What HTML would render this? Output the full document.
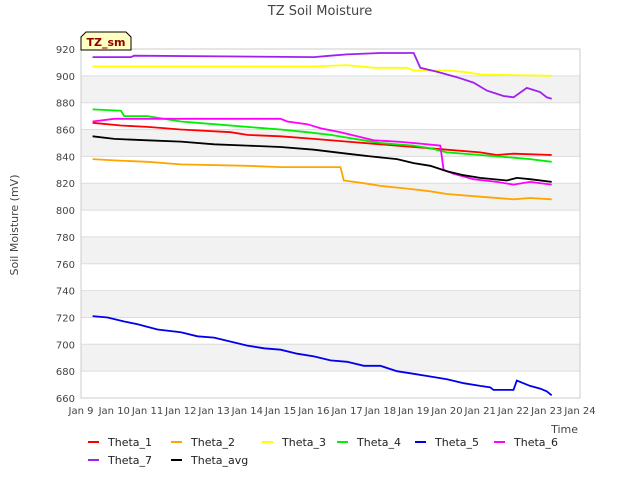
<!DOCTYPE html>
<html><head><meta charset="utf-8"><style>
body{margin:0;background:#fff;font-family:"Liberation Sans","DejaVu Sans",sans-serif}
svg text{font-family:"DejaVu Sans","Liberation Sans",sans-serif}
</style></head><body>
<svg id="c" width="640" height="480"></svg>
<script>
const yTicks=[660,680,700,720,740,760,780,800,820,840,860,880,900,920];
const xTickLabels=["Jan 9","Jan 10","Jan 11","Jan 12","Jan 13","Jan 14","Jan 15","Jan 16","Jan 17","Jan 18","Jan 19","Jan 20","Jan 21","Jan 22","Jan 23","Jan 24"];
const seriesNames=["Theta_1","Theta_2","Theta_3","Theta_4","Theta_5","Theta_6","Theta_7","Theta_avg"];
const seriesColors=["#ff0000","#ffa500","#ffff00","#00ee00","#0000ee","#ff00ff","#a020f0","#000000"];
const t1=[0.35,1.2,2,3,4.5,5,6,7,8,9,10,11,12,12.5,13,14.15];
const v1=[865,863,862,860,858,856,855,853,851,849,847,845,843,841,842,841];
const t2=[0.35,1,2,3,5,6,7.8,7.9,8.5,9,9.8,10.5,11,12,13,13.5,14.15];
const v2=[838,837,836,834,833,832,832,822,820,818,816,814,812,810,808,809,808];
const t3=[0.35,7,8,8.8,9.8,10,11,11.5,12,14.15];
const v3=[907,907,908,906,906,904,904,903,901,900];
const t4=[0.35,1.2,1.3,2,3,4,5,6,6.8,7.5,8,8.5,9,10,10.5,11,12,13,13.5,14.15];
const v4=[875,874,870,870,866,864,862,860,858,856,854,852,850,848,846,843,841,839,838,836];
const t5=[0.35,0.8,1.3,1.7,2.3,3,3.5,4,4.5,5,5.5,6,6.5,7,7.5,8,8.5,9,9.5,10,10.5,11,11.5,12,12.3,12.4,13,13.1,13.5,13.8,14,14.15];
const v5=[721,720,717,715,711,709,706,705,702,699,697,696,693,691,688,687,684,684,680,678,676,674,671,669,668,666,666,673,669,667,665,662];
const t6=[0.35,1,6,6.2,6.8,7.2,7.8,8.3,8.8,9.5,10,10.8,10.9,11.2,11.8,12.5,13,13.5,14.15];
const v6=[866,868,868,866,864,861,858,855,852,851,850,848,830,827,823,821,819,821,819];
const t7=[0.35,1.5,1.6,7,7.5,8,9,10,10.2,10.7,11.3,11.8,12.2,12.7,13,13.4,13.8,14,14.15];
const v7=[914,914,915,914,915,916,917,917,906,903,899,895,889,885,884,891,888,884,883];
const t8=[0.35,1,2,3,4,5,6,7,8,8.7,9.5,10,10.5,11,11.5,12,12.8,13.1,13.5,14.15];
const v8=[855,853,852,851,849,848,847,845,842,840,838,835,833,829,826,824,822,824,823,821];
const allT=[t1,t2,t3,t4,t5,t6,t7,t8], allV=[v1,v2,v3,v4,v5,v6,v7,v8];
const L=81,R=580,T=49,B=398;
const xs=d=>L+d*(R-L)/15;
const ys=v=>B-(v-660)*(B-T)/260;
const svg=document.getElementById('c');const NS="http://www.w3.org/2000/svg";
function mk(tag,at,name,par){const e=document.createElementNS(NS,tag);for(const k in at)e.setAttribute(k,at[k]);


(par||svg).appendChild(e);return e;}
mk('rect',{x:L,y:T,width:R-L,height:B-T,fill:'#fff'},'plot-background');
for(let i=0;i<yTicks.length-1;i++){if(i%2==1)mk('rect',{x:L,y:ys(yTicks[i+1]),width:R-L,height:ys(yTicks[i])-ys(yTicks[i+1]),fill:'#f2f2f2'},'grid-band');}
yTicks.forEach(v=>{mk('line',{x1:L,x2:R,y1:ys(v),y2:ys(v),stroke:'#dddddd'},'grid-line');
const tx=mk('text',{x:L-6,y:ys(v)+4,'text-anchor':'end','font-size':'10',fill:'#444'},'y-tick-label');tx.textContent=v;});
mk('rect',{x:L,y:T,width:R-L,height:B-T,fill:'none',stroke:'#cccccc'},'plot-frame');
xTickLabels.forEach((s,i)=>{const tx=mk('text',{x:xs(i),y:B+16,'text-anchor':'middle','font-size':'10',fill:'#444'},'x-tick-label');tx.textContent=s;});
allT.forEach((ts,k)=>{const pts=ts.map((t,i)=>xs(t).toFixed(1)+','+ys(allV[k][i]).toFixed(1)).join(' ');
mk('polyline',{points:pts,fill:'none',stroke:seriesColors[k],'stroke-width':'1.8'},'line-'+seriesNames[k].toLowerCase().replace('_','-'));});
let t=mk('text',{x:320,y:15,'text-anchor':'middle','font-size':'13',fill:'#444'},'chart-title');t.textContent='TZ Soil Moisture';
t=mk('text',{x:18,y:225,'text-anchor':'middle','font-size':'11',fill:'#444',transform:'rotate(-90 18 225)'},'y-axis-title');t.textContent='Soil Moisture (mV)';
t=mk('text',{x:578,y:433,'text-anchor':'end','font-size':'11',fill:'#444'},'x-axis-title');t.textContent='Time';
mk('path',{d:'M81,50 L81,37 L86,32 L126,32 L131,37 L131,50 Z',fill:'#ffffc0',stroke:'#000'},'site-label-box');
t=mk('text',{x:106,y:46,'text-anchor':'middle','font-size':'11','font-weight':'bold',fill:'#8b0000'},'site-label');t.textContent='TZ_sm';
const lx=[88,171,262,337,415,494,88,171],ly=[442,442,442,442,442,442,460,460];
seriesNames.forEach((n,i)=>{mk('line',{x1:lx[i],x2:lx[i]+11,y1:ly[i],y2:ly[i],stroke:seriesColors[i],'stroke-width':'2'},'legend-swatch');
const tx=mk('text',{x:lx[i]+20,y:ly[i]+4,'font-size':'11',fill:'#222'},'legend-entry');tx.textContent=n;});
</script></body></html>
